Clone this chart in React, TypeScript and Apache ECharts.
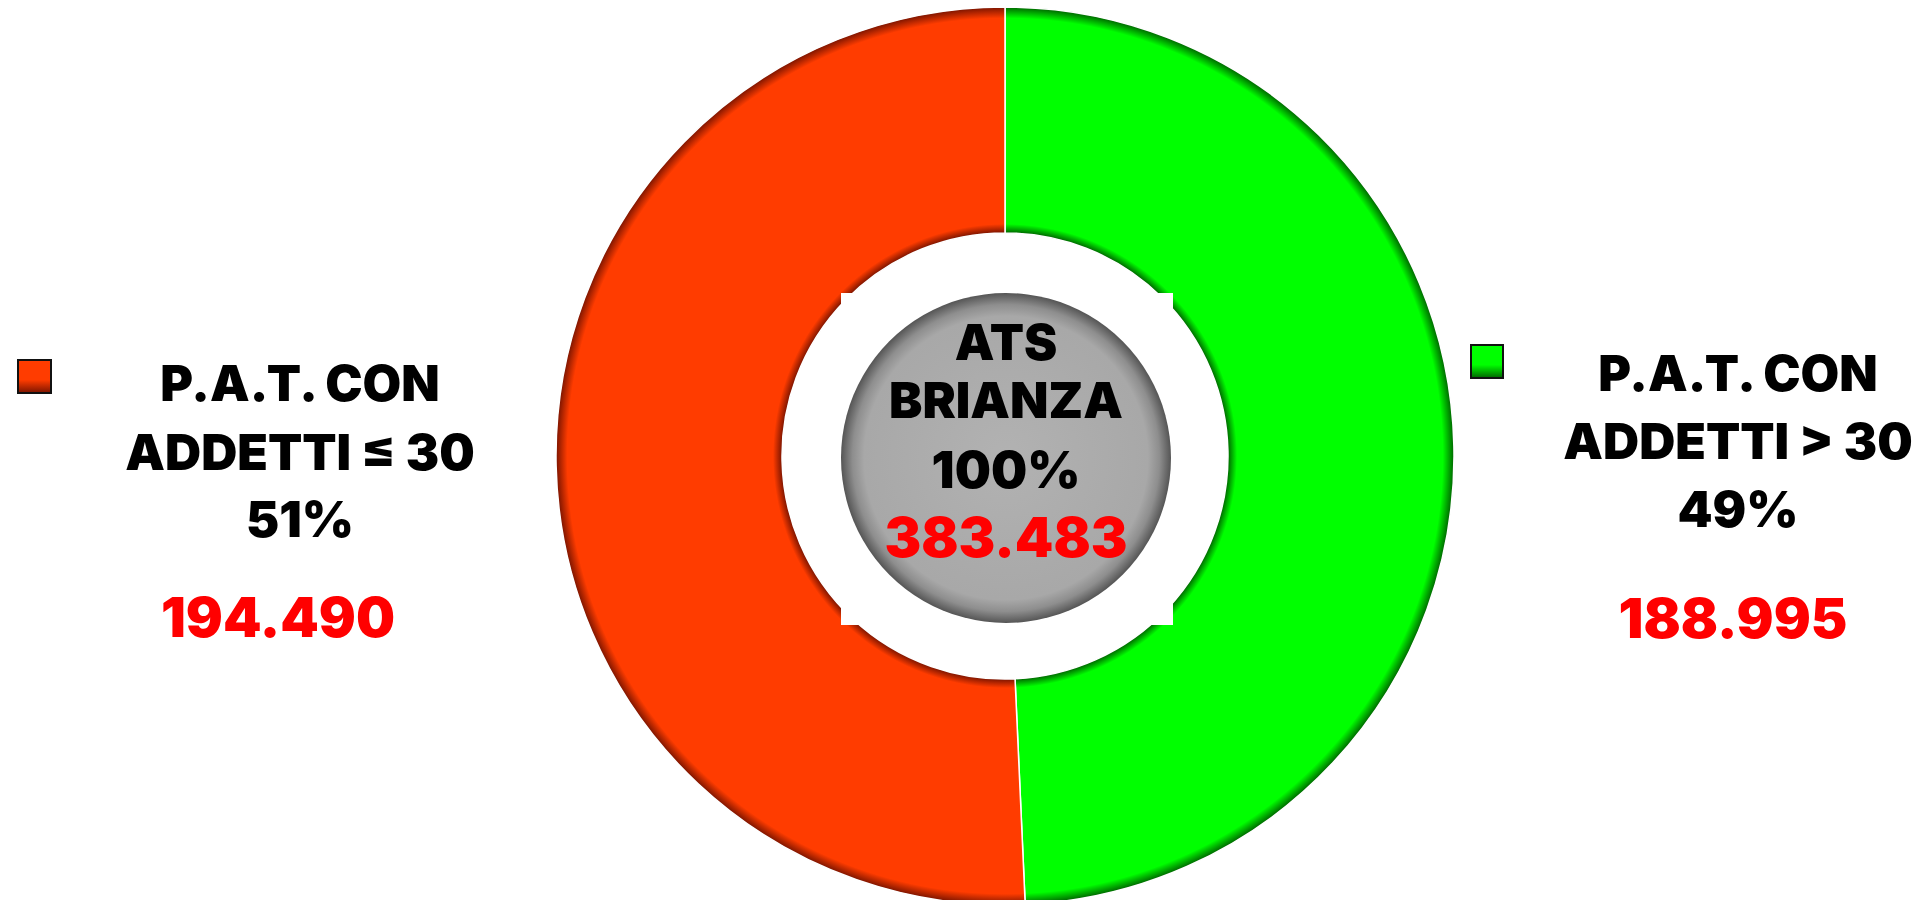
import React, { useEffect, useRef } from "react";
import * as echarts from "echarts";

// ---- data ----
const categories = ["P.A.T. CON\nADDETTI > 30", "P.A.T. CON\nADDETTI ≤ 30"];
const values = [188995, 194490];
const percents = ["49%", "51%"];
const totalValue = 383483;
const totalPercent = "100%";
const sliceColors = ["#00FF00", "#FF3C00"];
const sliceDark = ["#006400", "#7A1400"];
const centerTitle = ["ATS", "BRIANZA"];

const fmt = (n: number) => n.toString().replace(/\B(?=(\d{3})+(?!\d))/g, ".");

export default function App() {
  const ref = useRef<HTMLDivElement>(null);
  useEffect(() => {
    if (!ref.current) return;
    const chart = echarts.init(ref.current, undefined, { renderer: "svg" });
    const cx = 1005;
    const cy = 456;
    const rOut = 449;
    const rIn = 223;
    const font = "Inter";
    const fw = 900;

    const ringGrad = (i: number) =>
      new echarts.graphic.RadialGradient(
        cx,
        cy,
        rOut,
        [
          { offset: 0, color: sliceDark[i] },
          { offset: rIn / rOut, color: sliceDark[i] },
          { offset: rIn / rOut + 0.02, color: sliceColors[i] },
          { offset: 0.975, color: sliceColors[i] },
          { offset: 1, color: sliceDark[i] },
        ],
        true
      );

    const legendBlock = (i: number, x: number, xNum: number, ys: number[], sq: number[]) => {
      const lines = categories[i].split("\n");
      const els: any[] = [
        {
          type: "rect",
          z: 100,
          shape: { x: sq[0], y: sq[1], width: sq[2], height: sq[3] },
          style: {
            fill: new echarts.graphic.LinearGradient(0, 0, 0, 1, [
              { offset: 0, color: sliceColors[i] },
              { offset: 0.6, color: sliceColors[i] },
              { offset: 1, color: sliceDark[i] },
            ]),
            stroke: "#111",
            lineWidth: 2,
          },
        },
      ];
      lines.forEach((t, k) => {
        els.push({
          type: "text",
          z: 100,
          x: x,
          y: ys[k],
          style: { text: t, font: `${fw} 50px ${font}`, fill: "#000", align: "center", verticalAlign: "middle" },
        });
      });
      els.push({
        type: "text",
        z: 100,
        x: x,
        y: ys[2],
        style: { text: percents[i], font: `${fw} 50px ${font}`, fill: "#000", align: "center", verticalAlign: "middle" },
      });
      els.push({
        type: "text",
        z: 100,
        x: xNum,
        y: ys[3],
        style: { text: fmt(values[i]), font: `${fw} 55px ${font}`, fill: "#FF0000", align: "center", verticalAlign: "middle" },
      });
      return els;
    };

    chart.setOption({
      animation: false,
      backgroundColor: "#fff",
      series: [
        {
          type: "pie",
          center: [cx, cy],
          radius: [rIn, rOut],
          startAngle: 90,
          clockwise: true,
          silent: true,
          label: { show: false },
          labelLine: { show: false },
          itemStyle: { borderColor: "#fff", borderWidth: 1.5 },
          data: categories.map((c, i) => ({
            name: c,
            value: values[i],
            itemStyle: { color: ringGrad(i) },
          })),
        },
      ],
      graphic: [
        {
          type: "rect",
          z: 90,
          shape: { x: 841, y: 293, width: 332, height: 332 },
          style: { fill: "#fff" },
        },
        {
          type: "circle",
          z: 95,
          shape: { cx: 1006, cy: 458, r: 165 },
          style: {
            fill: new echarts.graphic.RadialGradient(0.5, 0.5, 0.5, [
              { offset: 0, color: "#B2B2B2" },
              { offset: 0.86, color: "#A8A8A8" },
              { offset: 0.93, color: "#8E8E8E" },
              { offset: 1, color: "#555555" },
            ]),
          },
        },
        ...centerTitle.map((t, k) => ({
          type: "text",
          z: 100,
          x: 1006,
          y: [341.5, 400][k],
          style: { text: t, font: `${fw} 50px ${font}`, fill: "#000", align: "center", verticalAlign: "middle" },
        })),
        {
          type: "text",
          z: 100,
          x: 1006,
          y: 469,
          style: { text: totalPercent, font: `${fw} 51px ${font}`, fill: "#000", align: "center", verticalAlign: "middle" },
        },
        {
          type: "text",
          z: 100,
          x: 1006,
          y: 537,
          style: { text: fmt(totalValue), font: `${fw} 55px ${font}`, fill: "#FF0000", align: "center", verticalAlign: "middle" },
        },
        ...legendBlock(1, 300, 278, [383, 451.5, 518.5, 617], [18, 360, 33, 33]),
        ...legendBlock(0, 1738, 1733, [373, 440.5, 508.5, 618], [1471, 345, 32, 33]),
      ],
    });
    return () => chart.dispose();
  }, []);
  return (
    <div
      ref={ref}
      style={{ position: "fixed", left: 0, top: 0, width: 1932, height: 900, background: "#fff" }}
    />
  );
}
